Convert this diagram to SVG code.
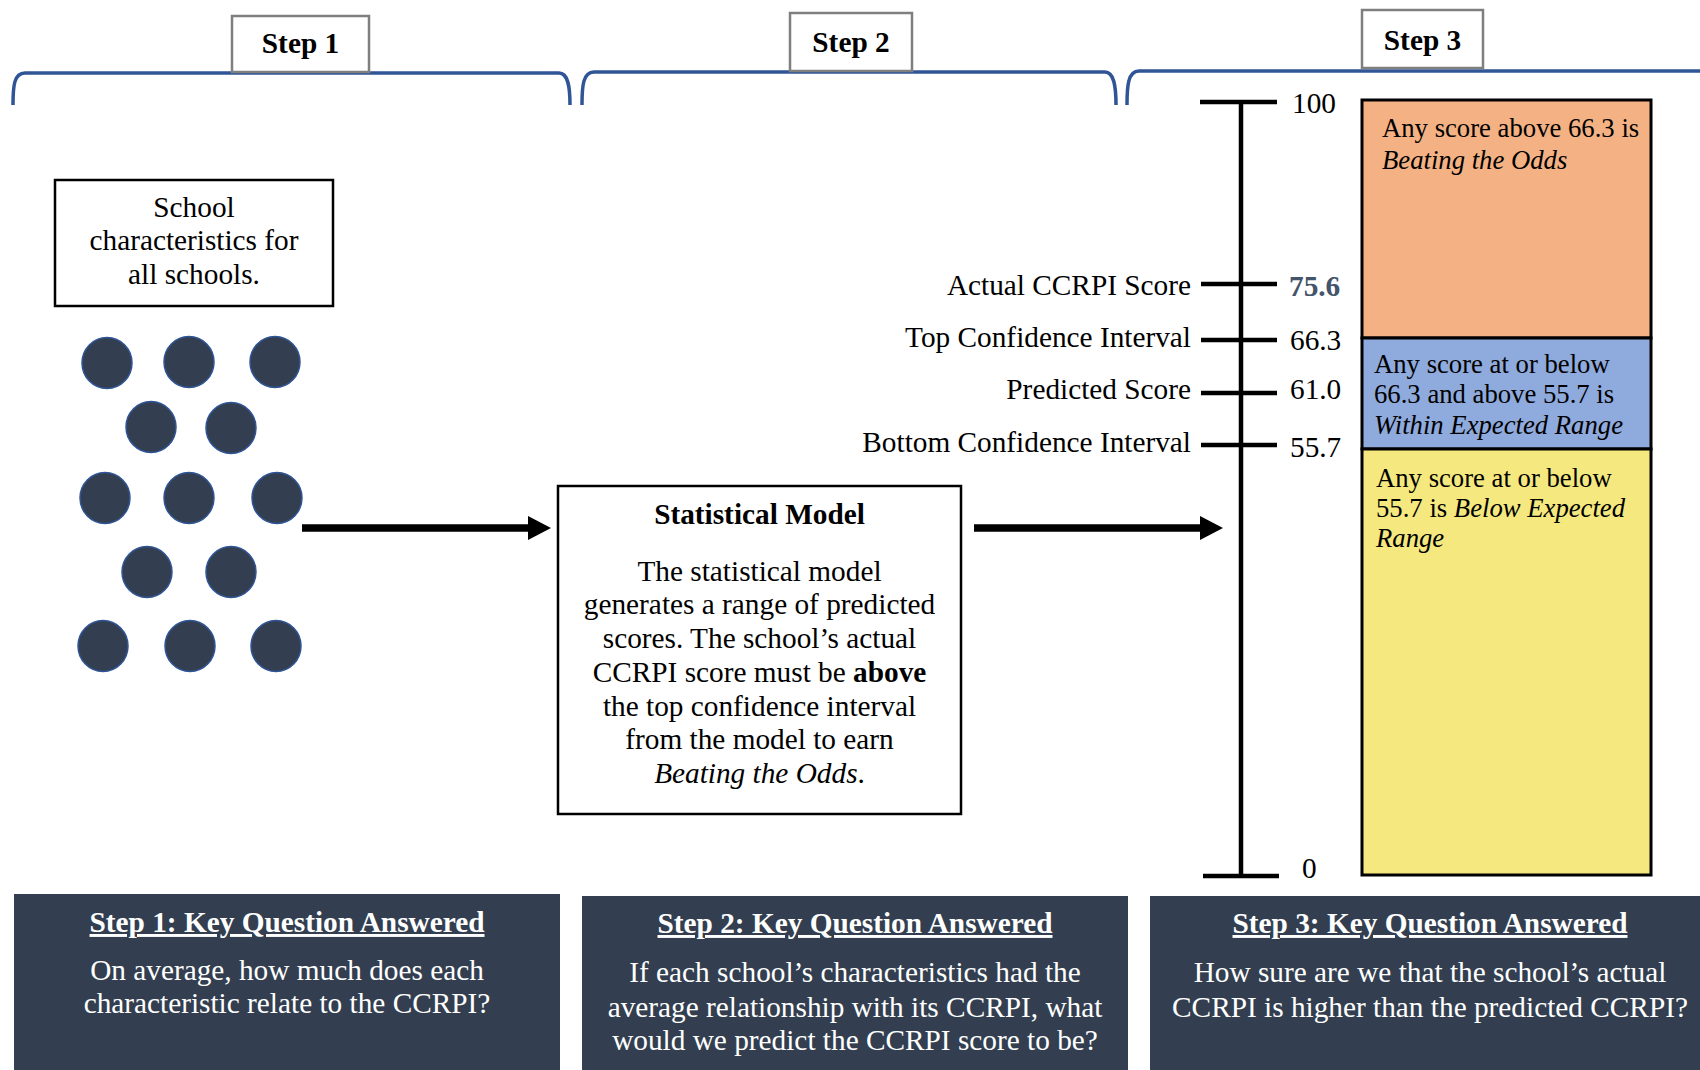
<svg xmlns="http://www.w3.org/2000/svg" width="1700" height="1070" viewBox="0 0 1700 1070">
<style>
text{font-family:"Liberation Serif","Times New Roman",serif;font-size:29.3px;fill:#000}
.b{font-weight:bold}
.i{font-style:italic}
.c{text-anchor:middle}
.r{text-anchor:end}
.s{font-size:26.7px}
.w{fill:#fff}
.u{text-decoration:underline}
.brace{fill:none;stroke:#2F5597;stroke-width:3.5}
.stepbox{fill:#fff;stroke:#7F7F7F;stroke-width:2.5}
.box{fill:#fff;stroke:#000;stroke-width:2.5}
.dot{fill:#333F50;stroke:#2F5597;stroke-width:1.5}
.tick{stroke:#000;stroke-width:4.5;fill:none}
.panel{fill:#333F50}
.band{stroke:#000;stroke-width:3}
.conn{stroke:#000;stroke-width:7.5;fill:none}
</style>
<defs>
<marker id="ah" markerUnits="userSpaceOnUse" markerWidth="26" markerHeight="26" refX="2" refY="12" orient="auto">
<path d="M0,0 L23,12 L0,24 z" fill="#000"/>
</marker>
</defs>

<g id="braces">
<path class="brace" d="M13,105 C13,86 14,73 25,73 L559,73 C568,73 570,86 570,105"/>
<path class="brace" d="M582,105 C582,86 583,72 594,72 L1105,72 C1114,72 1116,86 1116,105"/>
<path class="brace" d="M1127,105 C1127,86 1128,71 1139,71 L1700,71"/>
</g>

<g id="step1-label"><rect class="stepbox" x="232" y="16" width="137" height="56"/><text class="b c" x="300.5" y="53">Step 1</text></g>
<g id="step2-label"><rect class="stepbox" x="790" y="13" width="122" height="58"/><text class="b c" x="851" y="52">Step 2</text></g>
<g id="step3-label"><rect class="stepbox" x="1362" y="10" width="121" height="58"/><text class="b c" x="1422.5" y="50">Step 3</text></g>

<g id="school-box">
<rect class="box" x="55" y="180" width="278" height="126"/>
<text class="c" x="194" y="217">School</text>
<text class="c" x="194" y="250">characteristics for</text>
<text class="c" x="194" y="284">all schools.</text>
</g>

<g id="schools">
<ellipse class="dot" cx="107" cy="363" rx="25" ry="25.5"/>
<ellipse class="dot" cx="189" cy="362" rx="25" ry="25.5"/>
<ellipse class="dot" cx="275" cy="362" rx="25" ry="25.5"/>
<ellipse class="dot" cx="151" cy="427" rx="25" ry="25.5"/>
<ellipse class="dot" cx="231" cy="428" rx="25" ry="25.5"/>
<ellipse class="dot" cx="105" cy="498" rx="25" ry="25.5"/>
<ellipse class="dot" cx="189" cy="498" rx="25" ry="25.5"/>
<ellipse class="dot" cx="277" cy="498" rx="25" ry="25.5"/>
<ellipse class="dot" cx="147" cy="572" rx="25" ry="25.5"/>
<ellipse class="dot" cx="231" cy="572" rx="25" ry="25.5"/>
<ellipse class="dot" cx="103" cy="646" rx="25" ry="25.5"/>
<ellipse class="dot" cx="190" cy="646" rx="25" ry="25.5"/>
<ellipse class="dot" cx="276" cy="646" rx="25" ry="25.5"/>
</g>

<g id="connectors">
<line class="conn" x1="302" y1="528" x2="530" y2="528" marker-end="url(#ah)"/>
<line class="conn" x1="974" y1="528" x2="1202" y2="528" marker-end="url(#ah)"/>
</g>

<g id="model-box">
<rect class="box" x="558" y="486" width="403" height="328"/>
<text class="b c" x="759.5" y="524">Statistical Model</text>
<text class="c" x="759.5" y="581">The statistical model</text>
<text class="c" x="759.5" y="614">generates a range of predicted</text>
<text class="c" x="759.5" y="648">scores. The school’s actual</text>
<text class="c" x="759.5" y="682">CCRPI score must be <tspan class="b">above</tspan></text>
<text class="c" x="759.5" y="716">the top confidence interval</text>
<text class="c" x="759.5" y="749">from the model to earn</text>
<text class="c" x="759.5" y="783"><tspan class="i">Beating the Odds</tspan>.</text>
</g>

<g id="scale">
<line class="tick" x1="1241" y1="102" x2="1241" y2="876"/>
<line class="tick" x1="1200" y1="102" x2="1277" y2="102"/>
<line class="tick" x1="1201" y1="284" x2="1277" y2="284"/>
<line class="tick" x1="1201" y1="340" x2="1277" y2="340"/>
<line class="tick" x1="1201" y1="393" x2="1277" y2="393"/>
<line class="tick" x1="1201" y1="445" x2="1277" y2="445"/>
<line class="tick" x1="1203" y1="876" x2="1279" y2="876"/>
<text x="1292" y="113">100</text>
<text class="b" x="1289" y="296" style="fill:#44546A">75.6</text>
<text x="1290" y="350">66.3</text>
<text x="1290" y="399">61.0</text>
<text x="1290" y="457">55.7</text>
<text x="1302" y="878">0</text>
<text class="r" x="1191" y="295">Actual CCRPI Score</text>
<text class="r" x="1191" y="347">Top Confidence Interval</text>
<text class="r" x="1191" y="399">Predicted Score</text>
<text class="r" x="1191" y="452">Bottom Confidence Interval</text>
</g>

<g id="band-beating">
<rect class="band" x="1362" y="100" width="289" height="238" fill="#F4B183"/>
<text class="s" x="1382" y="137">Any score above 66.3 is</text>
<text class="s i" x="1382" y="169">Beating the Odds</text>
</g>
<g id="band-within">
<rect class="band" x="1362" y="338" width="289" height="111" fill="#8FAADC"/>
<text class="s" x="1374" y="373">Any score at or below</text>
<text class="s" x="1374" y="403">66.3 and above 55.7 is</text>
<text class="s i" x="1374" y="434">Within Expected Range</text>
</g>
<g id="band-below">
<rect class="band" x="1362" y="449" width="289" height="426" fill="#F4E87F"/>
<text class="s" x="1376" y="487">Any score at or below</text>
<text class="s" x="1376" y="517">55.7 is <tspan class="i">Below Expected</tspan></text>
<text class="s i" x="1376" y="547">Range</text>
</g>

<g id="panel1">
<rect class="panel" x="14" y="894" width="546" height="176"/>
<text class="b c w u" x="287" y="932">Step 1: Key Question Answered</text>
<text class="c w" x="287" y="980">On average, how much does each</text>
<text class="c w" x="287" y="1013">characteristic relate to the CCRPI?</text>
</g>
<g id="panel2">
<rect class="panel" x="582" y="896" width="546" height="174"/>
<text class="b c w u" x="855" y="933">Step 2: Key Question Answered</text>
<text class="c w" x="855" y="982">If each school’s characteristics had the</text>
<text class="c w" x="855" y="1017">average relationship with its CCRPI, what</text>
<text class="c w" x="855" y="1050">would we predict the CCRPI score to be?</text>
</g>
<g id="panel3">
<rect class="panel" x="1150" y="896" width="550" height="174"/>
<text class="b c w u" x="1430" y="933">Step 3: Key Question Answered</text>
<text class="c w" x="1430" y="982">How sure are we that the school’s actual</text>
<text class="c w" x="1430" y="1017">CCRPI is higher than the predicted CCRPI?</text>
</g>
</svg>
